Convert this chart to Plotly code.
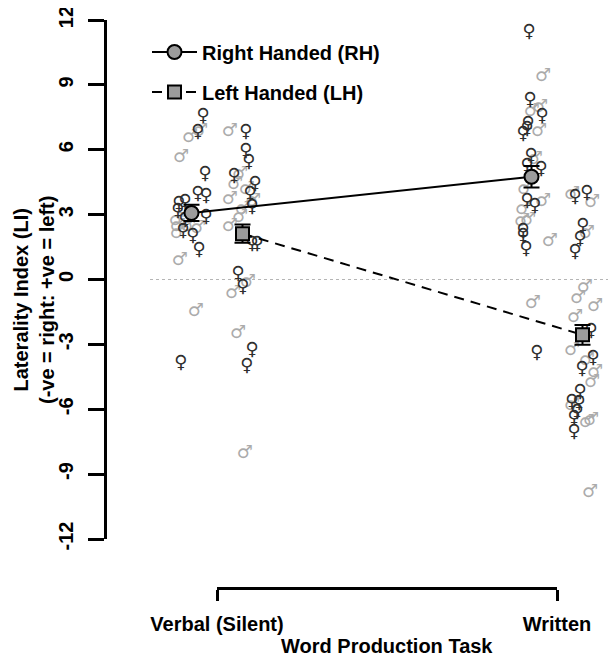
import plotly.graph_objects as go

# ---------------- data ----------------
tasks = ["Verbal (Silent)", "Written"]
task_pos = [1, 2]
y_ticks = [-12, -9, -6, -3, 0, 3, 6, 9, 12]

# individual participants: LI values and horizontal jitter (category units)
verbal_rh_f = [7.52, 6.78, 4.84, 3.91, 3.82, 3.45, 3.54, 2.85, 2.20, 1.97, 1.36, -3.87, 3.13, 2.75]
verbal_rh_f_jit = [-0.041, -0.056, -0.035, -0.056, -0.032, -0.112, -0.094, -0.032, -0.100, -0.071, -0.053, -0.106, -0.115, -0.094]
verbal_rh_m = [6.83, 6.55, 5.63, 2.75, 2.43, 2.15, 2.43, 2.38, 0.90, -1.50]
verbal_rh_m_jit = [-0.050, -0.079, -0.106, -0.118, -0.115, -0.115, -0.085, -0.056, -0.109, -0.062]

verbal_lh_f = [6.78, 5.90, 5.39, 4.75, 4.38, 3.91, 3.31, 1.60, 1.60, 0.25, -0.35, -3.26, -4.00]
verbal_lh_f_jit = [0.085, 0.085, 0.094, 0.050, 0.112, 0.097, 0.103, 0.103, 0.118, 0.062, 0.076, 0.103, 0.088]
verbal_lh_m = [6.83, 4.84, 4.38, 3.68, 4.14, 3.59, 3.22, 2.89, 2.43, -0.16, -0.63, -2.48, -8.03]
verbal_lh_m_jit = [0.038, 0.068, 0.053, 0.038, 0.088, 0.106, 0.076, 0.068, 0.038, 0.091, 0.047, 0.062, 0.082]

written_rh_f = [11.41, 8.26, 7.52, 7.15, 6.92, 6.69, 5.67, 5.21, 5.07, 3.59, 3.36, 2.20, 1.97, 1.37, -3.40]
written_rh_f_jit = [-0.082, -0.079, -0.044, -0.085, -0.088, -0.100, -0.076, -0.088, -0.047, -0.088, -0.065, -0.100, -0.100, -0.091, -0.059]
written_rh_m = [9.38, 7.94, 7.75, 6.83, 5.53, 4.14, 3.59, 3.22, 2.66, 2.75, 1.74, -1.09]
written_rh_m_jit = [-0.041, -0.050, -0.074, -0.053, -0.065, -0.094, -0.041, -0.100, -0.103, -0.085, -0.021, -0.071]

written_lh_f = [3.77, 4.00, 2.43, 1.83, 1.23, -2.40, -3.63, -4.14, -5.21, -5.67, -5.72, -6.13, -6.41, -7.06]
written_lh_f_jit = [0.053, 0.088, 0.076, 0.068, 0.053, 0.100, 0.106, 0.074, 0.068, 0.044, 0.065, 0.059, 0.050, 0.050]
written_lh_m = [3.91, 3.54, 2.15, -0.39, -0.86, -1.27, -1.74, -3.26, -3.73, -4.28, -4.75, -5.81, -6.60, -6.50, -9.84]
written_lh_m_jit = [0.044, 0.103, 0.088, 0.082, 0.062, 0.112, 0.053, 0.044, 0.088, 0.112, 0.103, 0.044, 0.088, 0.100, 0.097]

# group means and standard errors
mean_rh = [3.08, 4.75]
sem_rh = [0.38, 0.50]
mean_lh = [2.12, -2.56]
sem_lh = [0.42, 0.46]
group_offset = [-0.075, 0.075]   # RH left, LH right of each task

# ---------------- figure ----------------
FONT = "Liberation Sans, Arial, sans-serif"
SYM_FONT = "DejaVu Sans"
F_COL = "#2e2e2e"
M_COL = "#ababab"
SYM_SIZE = 18

fig = go.Figure()

def add_points(pos, vals, jit, sym, col):
    fig.add_trace(go.Scatter(
        x=[pos + j for j in jit], y=vals, mode="text",
        text=[sym] * len(vals),
        textfont=dict(family=SYM_FONT, size=SYM_SIZE, color=col),
        textposition="middle center", showlegend=False, hoverinfo="skip"))

# males (grey) first, females (black) over them
add_points(task_pos[0], verbal_rh_m, verbal_rh_m_jit, "♂", M_COL)
add_points(task_pos[0], verbal_lh_m, verbal_lh_m_jit, "♂", M_COL)
add_points(task_pos[1], written_rh_m, written_rh_m_jit, "♂", M_COL)
add_points(task_pos[1], written_lh_m, written_lh_m_jit, "♂", M_COL)
add_points(task_pos[0], verbal_rh_f, verbal_rh_f_jit, "♀", F_COL)
add_points(task_pos[0], verbal_lh_f, verbal_lh_f_jit, "♀", F_COL)
add_points(task_pos[1], written_rh_f, written_rh_f_jit, "♀", F_COL)
add_points(task_pos[1], written_lh_f, written_lh_f_jit, "♀", F_COL)

fig.add_trace(go.Scatter(
    x=[p + group_offset[0] for p in task_pos], y=mean_rh,
    mode="lines+markers", name="Right Handed (RH)",
    line=dict(color="black", width=2),
    marker=dict(symbol="circle", size=14, color="#9c9c9c", line=dict(color="black", width=2)),
    error_y=dict(type="data", array=sem_rh, color="black", thickness=2, width=8),
    legend="legend"))
fig.add_trace(go.Scatter(
    x=[p + group_offset[1] for p in task_pos], y=mean_lh,
    mode="lines+markers", name="Left Handed (LH)",
    line=dict(color="black", width=2, dash="10px,7px"),
    marker=dict(symbol="square", size=13, color="#9c9c9c", line=dict(color="black", width=2)),
    error_y=dict(type="data", array=sem_lh, color="black", thickness=2, width=8),
    legend="legend2"))

# dummy trace so the bracket-style category axis is drawn
fig.add_trace(go.Scatter(x=task_pos, y=[None, None], xaxis="x2", yaxis="y",
                         mode="markers", showlegend=False, hoverinfo="skip"))

# page body has an 8px margin: lay the figure out in screen pixels minus that offset
OFF = 8
W, H = 616 - OFF, 660 - OFF
L = 107 - OFF               # y axis line at screen x=107
T = 20 - OFF                # y=12 at screen y=20
R = W - (612 - OFF)         # plot right edge at screen x=612
B = H - (588 - OFF)         # category axis at screen y=588
pw, ph = W - L - R, H - T - B

def px(sx):   # screen x -> paper x
    return (sx - OFF - L) / pw

def py(sy):   # screen y -> paper y
    return (H - B - (sy - OFF)) / ph

px_per_unit = 340.0
x_left = 1 - (217 - 107) / px_per_unit
x_right = 2 + (612 - 557) / px_per_unit

legend_style = dict(xanchor="left", yanchor="middle", bgcolor="rgba(0,0,0,0)",
                    itemwidth=45, font=dict(family=FONT, size=20, weight="bold"))

fig.update_layout(
    width=W, height=H,
    margin=dict(l=L, r=R, t=T, b=B, autoexpand=False),
    paper_bgcolor="white", plot_bgcolor="rgba(0,0,0,0)",
    font=dict(family=FONT, size=20, color="black"),
    xaxis=dict(range=[x_left, x_right], visible=False, fixedrange=True, automargin=False),
    xaxis2=dict(domain=[px(217), px(557)], range=[1, 2],
                anchor="free", position=0, automargin=False,
                tickmode="array", tickvals=task_pos, ticktext=tasks,
                ticks="outside", ticklen=11, tickwidth=3, tickcolor="black",
                showline=True, linewidth=3, linecolor="black",
                showgrid=False, zeroline=False, ticklabelstandoff=6,
                ticklabeloverflow="allow",
                tickfont=dict(family=FONT, size=20, color="black", weight="bold")),
    yaxis=dict(domain=[py(539), 1], range=[-12.0001, 12.0001], automargin=False,
               tickmode="array", tickvals=y_ticks, ticktext=[str(v) for v in y_ticks],
               ticks="outside", ticklen=16, tickwidth=3, tickcolor="black",
               showline=True, linewidth=3, linecolor="black",
               showgrid=False, zeroline=False, tickangle=-90, ticklabelstandoff=7,
               ticklabeloverflow="allow",
               tickfont=dict(family=FONT, size=20, color="black", weight="bold")),
    legend=dict(x=px(147), y=py(52), **legend_style),
    legend2=dict(x=px(147), y=py(92), **legend_style),
    shapes=[dict(type="line", xref="paper", yref="y", x0=px(150), x1=1, y0=0, y1=0,
                 line=dict(color="#b5b5b5", width=1, dash="dot"), layer="below")],
    annotations=[
        dict(text="<b>Laterality Index (LI)</b><br><b>(-ve = right: +ve = left)</b>",
             textangle=-90, xref="paper", yref="paper",
             x=px(34), y=py(300), xanchor="center", yanchor="middle",
             showarrow=False, font=dict(family=FONT, size=20, color="black")),
        dict(text="<b>Word Production Task</b>", xref="paper", yref="paper",
             x=px(387), y=py(646), xanchor="center", yanchor="middle",
             showarrow=False, font=dict(family=FONT, size=20, color="black")),
    ],
)

fig.write_html("out.html")
